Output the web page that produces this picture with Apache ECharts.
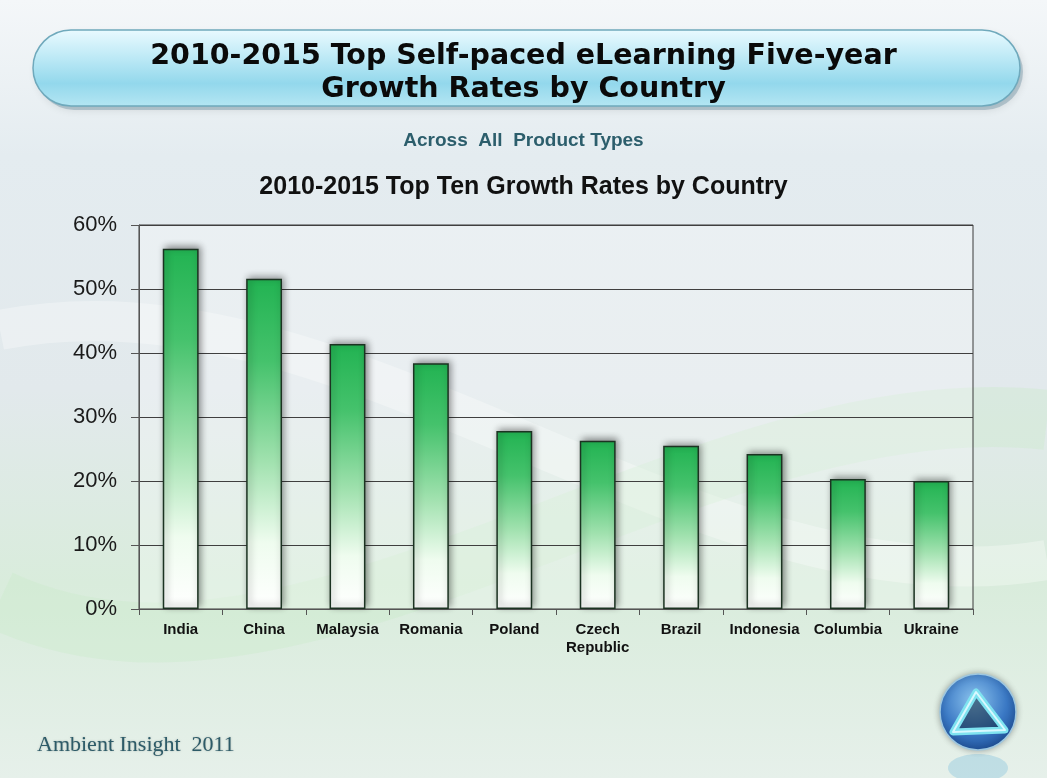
<!DOCTYPE html>
<html>
<head>
<meta charset="utf-8">
<script src="https://cdn.jsdelivr.net/npm/echarts@6/dist/echarts.min.js"></script>
<style>
html,body{margin:0;padding:0;background:#fff;}
#chart{width:1047px;height:778px;}
</style>
</head>
<body>
<div id="chart"></div>
<script>
const categories = ['India','China','Malaysia','Romania','Poland','Czech\nRepublic','Brazil','Indonesia','Columbia','Ukraine'];
const growthRates = [56.3, 51.6, 41.4, 38.4, 27.8, 26.3, 25.5, 24.2, 20.3, 20.0];
const yTicks = [0, 10, 20, 30, 40, 50, 60];

const mainTitleLines = ['2010-2015 Top Self-paced eLearning Five-year', 'Growth Rates by Country'];
const subTitle = 'Across  All  Product Types';
const chartTitle = '2010-2015 Top Ten Growth Rates by Country';
const footer = 'Ambient Insight  2011';

const chart = echarts.init(document.getElementById('chart'));

const option = {
  animation: false,
  backgroundColor: {
    type: 'linear', x: 0, y: 0, x2: 0, y2: 1,
    colorStops: [
      {offset: 0, color: '#f4f7f9'},
      {offset: 0.2, color: '#e4ecf0'},
      {offset: 0.5, color: '#e2e9ec'},
      {offset: 0.75, color: '#d9ecdc'},
      {offset: 1, color: '#e6f0ea'}
    ]
  },
  graphic: [
    {type: 'bezierCurve', silent: true, z: -10,
     shape: {x1: 0, y1: 330, x2: 1047, y2: 560, cpx1: 350, cpy1: 260, cpx2: 700, cpy2: 620},
     style: {stroke: 'rgba(255,255,255,0.3)', lineWidth: 40, fill: null}},
    {type: 'bezierCurve', silent: true, z: -10,
     shape: {x1: 0, y1: 600, x2: 1047, y2: 420, cpx1: 300, cpy1: 740, cpx2: 700, cpy2: 380},
     style: {stroke: 'rgba(200,235,200,0.35)', lineWidth: 60, fill: null}},
    {type: 'rect', silent: true, z: -5,
     shape: {x: 139, y: 225, width: 834, height: 384},
     style: {fill: 'rgba(255,255,255,0.25)'}},
    {type: 'rect', silent: true, z: 1,
     shape: {x: 36, y: 34, width: 987, height: 76, r: 38},
     style: {fill: 'rgba(90,130,150,0.35)', shadowBlur: 8, shadowColor: 'rgba(0,0,0,0.3)'}},
    {type: 'rect', silent: true, z: 2,
     shape: {x: 33, y: 30, width: 987, height: 76, r: 38},
     style: {
       fill: {type: 'linear', x: 0, y: 0, x2: 0, y2: 1, colorStops: [
         {offset: 0, color: '#eafaff'},
         {offset: 0.35, color: '#bfeaf6'},
         {offset: 0.7, color: '#93d8ec'},
         {offset: 1, color: '#b5e6f3'}
       ]},
       stroke: '#6fa9bc', lineWidth: 1.5
     }},
    {type: 'text', silent: true, z: 5, left: 'center', top: 42,
     style: {text: mainTitleLines[0], font: 'bold 28.5px "DejaVu Sans"', fill: '#0a0a0a'}},
    {type: 'text', silent: true, z: 5, left: 'center', top: 75,
     style: {text: mainTitleLines[1], font: 'bold 28.5px "DejaVu Sans"', fill: '#0a0a0a'}},
    {type: 'text', silent: true, z: 5, left: 'center', top: 131,
     style: {text: subTitle, font: 'bold 19px "Liberation Sans"', fill: '#2c5e6c'}},
    {type: 'text', silent: true, z: 5, left: 'center', top: 175,
     style: {text: chartTitle, font: 'bold 25px "Liberation Sans"', fill: '#111'}},
    {type: 'text', silent: true, z: 5, left: 37, top: 734,
     style: {text: footer, font: '22px "Liberation Serif"', fill: '#2d5b68', textShadowColor: 'rgba(0,0,0,0.25)', textShadowBlur: 2}},
    {type: 'ellipse', silent: true, z: 3,
     shape: {cx: 978, cy: 768, rx: 30, ry: 14},
     style: {fill: 'rgba(120,190,220,0.35)'}},
    {type: 'circle', silent: true, z: 4,
     shape: {cx: 978, cy: 712, r: 38},
     style: {
       fill: {type: 'radial', x: 0.45, y: 0.35, r: 0.7, colorStops: [
         {offset: 0, color: '#8cc4ee'},
         {offset: 0.6, color: '#3a78c4'},
         {offset: 1, color: '#1b4a92'}
       ]},
       stroke: '#9ec7e0', lineWidth: 1.5,
       shadowBlur: 6, shadowColor: 'rgba(0,0,0,0.3)'
     }},
    {type: 'polygon', silent: true, z: 5,
     shape: {points: [[976, 692], [953, 732], [1005, 730]]},
     style: {fill: 'rgba(20,40,60,0.55)', stroke: '#7fe3f0', lineWidth: 7, lineJoin: 'round'}},
    {type: 'polygon', silent: true, z: 6,
     shape: {points: [[976, 692], [953, 732], [1005, 730]]},
     style: {fill: null, stroke: '#d8f8ff', lineWidth: 2, lineJoin: 'round'}}
  ],
  grid: {
    left: 139, right: 74, top: 225, bottom: 169,
    show: true, borderColor: '#3a3a3a', borderWidth: 1, backgroundColor: 'transparent'
  },
  xAxis: {
    type: 'category',
    data: categories,
    axisLine: {lineStyle: {color: '#555', width: 1}},
    axisTick: {show: true, length: 6, lineStyle: {color: '#555'}},
    axisLabel: {
      interval: 0, color: '#111', fontFamily: 'Liberation Sans', fontWeight: 'bold',
      fontSize: 15, margin: 12, lineHeight: 18
    }
  },
  yAxis: {
    type: 'value',
    min: 0, max: 60, interval: 10,
    axisLine: {show: true, lineStyle: {color: '#555', width: 1}},
    axisTick: {show: true, length: 8, lineStyle: {color: '#555'}},
    splitLine: {lineStyle: {color: '#3f3f3f', width: 1}},
    axisLabel: {
      color: '#1a1a1a', fontFamily: 'Liberation Sans', fontSize: 22, margin: 22,
      formatter: function (v) { return yTicks.indexOf(v) >= 0 ? v + '%' : ''; }
    }
  },
  series: [{
    type: 'bar',
    data: growthRates,
    barWidth: '43%',
    itemStyle: {
      color: {type: 'linear', x: 0, y: 0, x2: 0, y2: 1, colorStops: [
        {offset: 0, color: '#22b352'},
        {offset: 0.25, color: '#45c26c'},
        {offset: 0.55, color: '#a0e1ae'},
        {offset: 0.8, color: '#effcef'},
        {offset: 1, color: '#ffffff'}
      ]},
      borderColor: '#1c3322', borderWidth: 1.5,
      shadowBlur: 7, shadowColor: 'rgba(0,0,0,0.45)', shadowOffsetX: 2, shadowOffsetY: -2
    }
  }]
};

chart.setOption(option);
</script>
</body>
</html>
